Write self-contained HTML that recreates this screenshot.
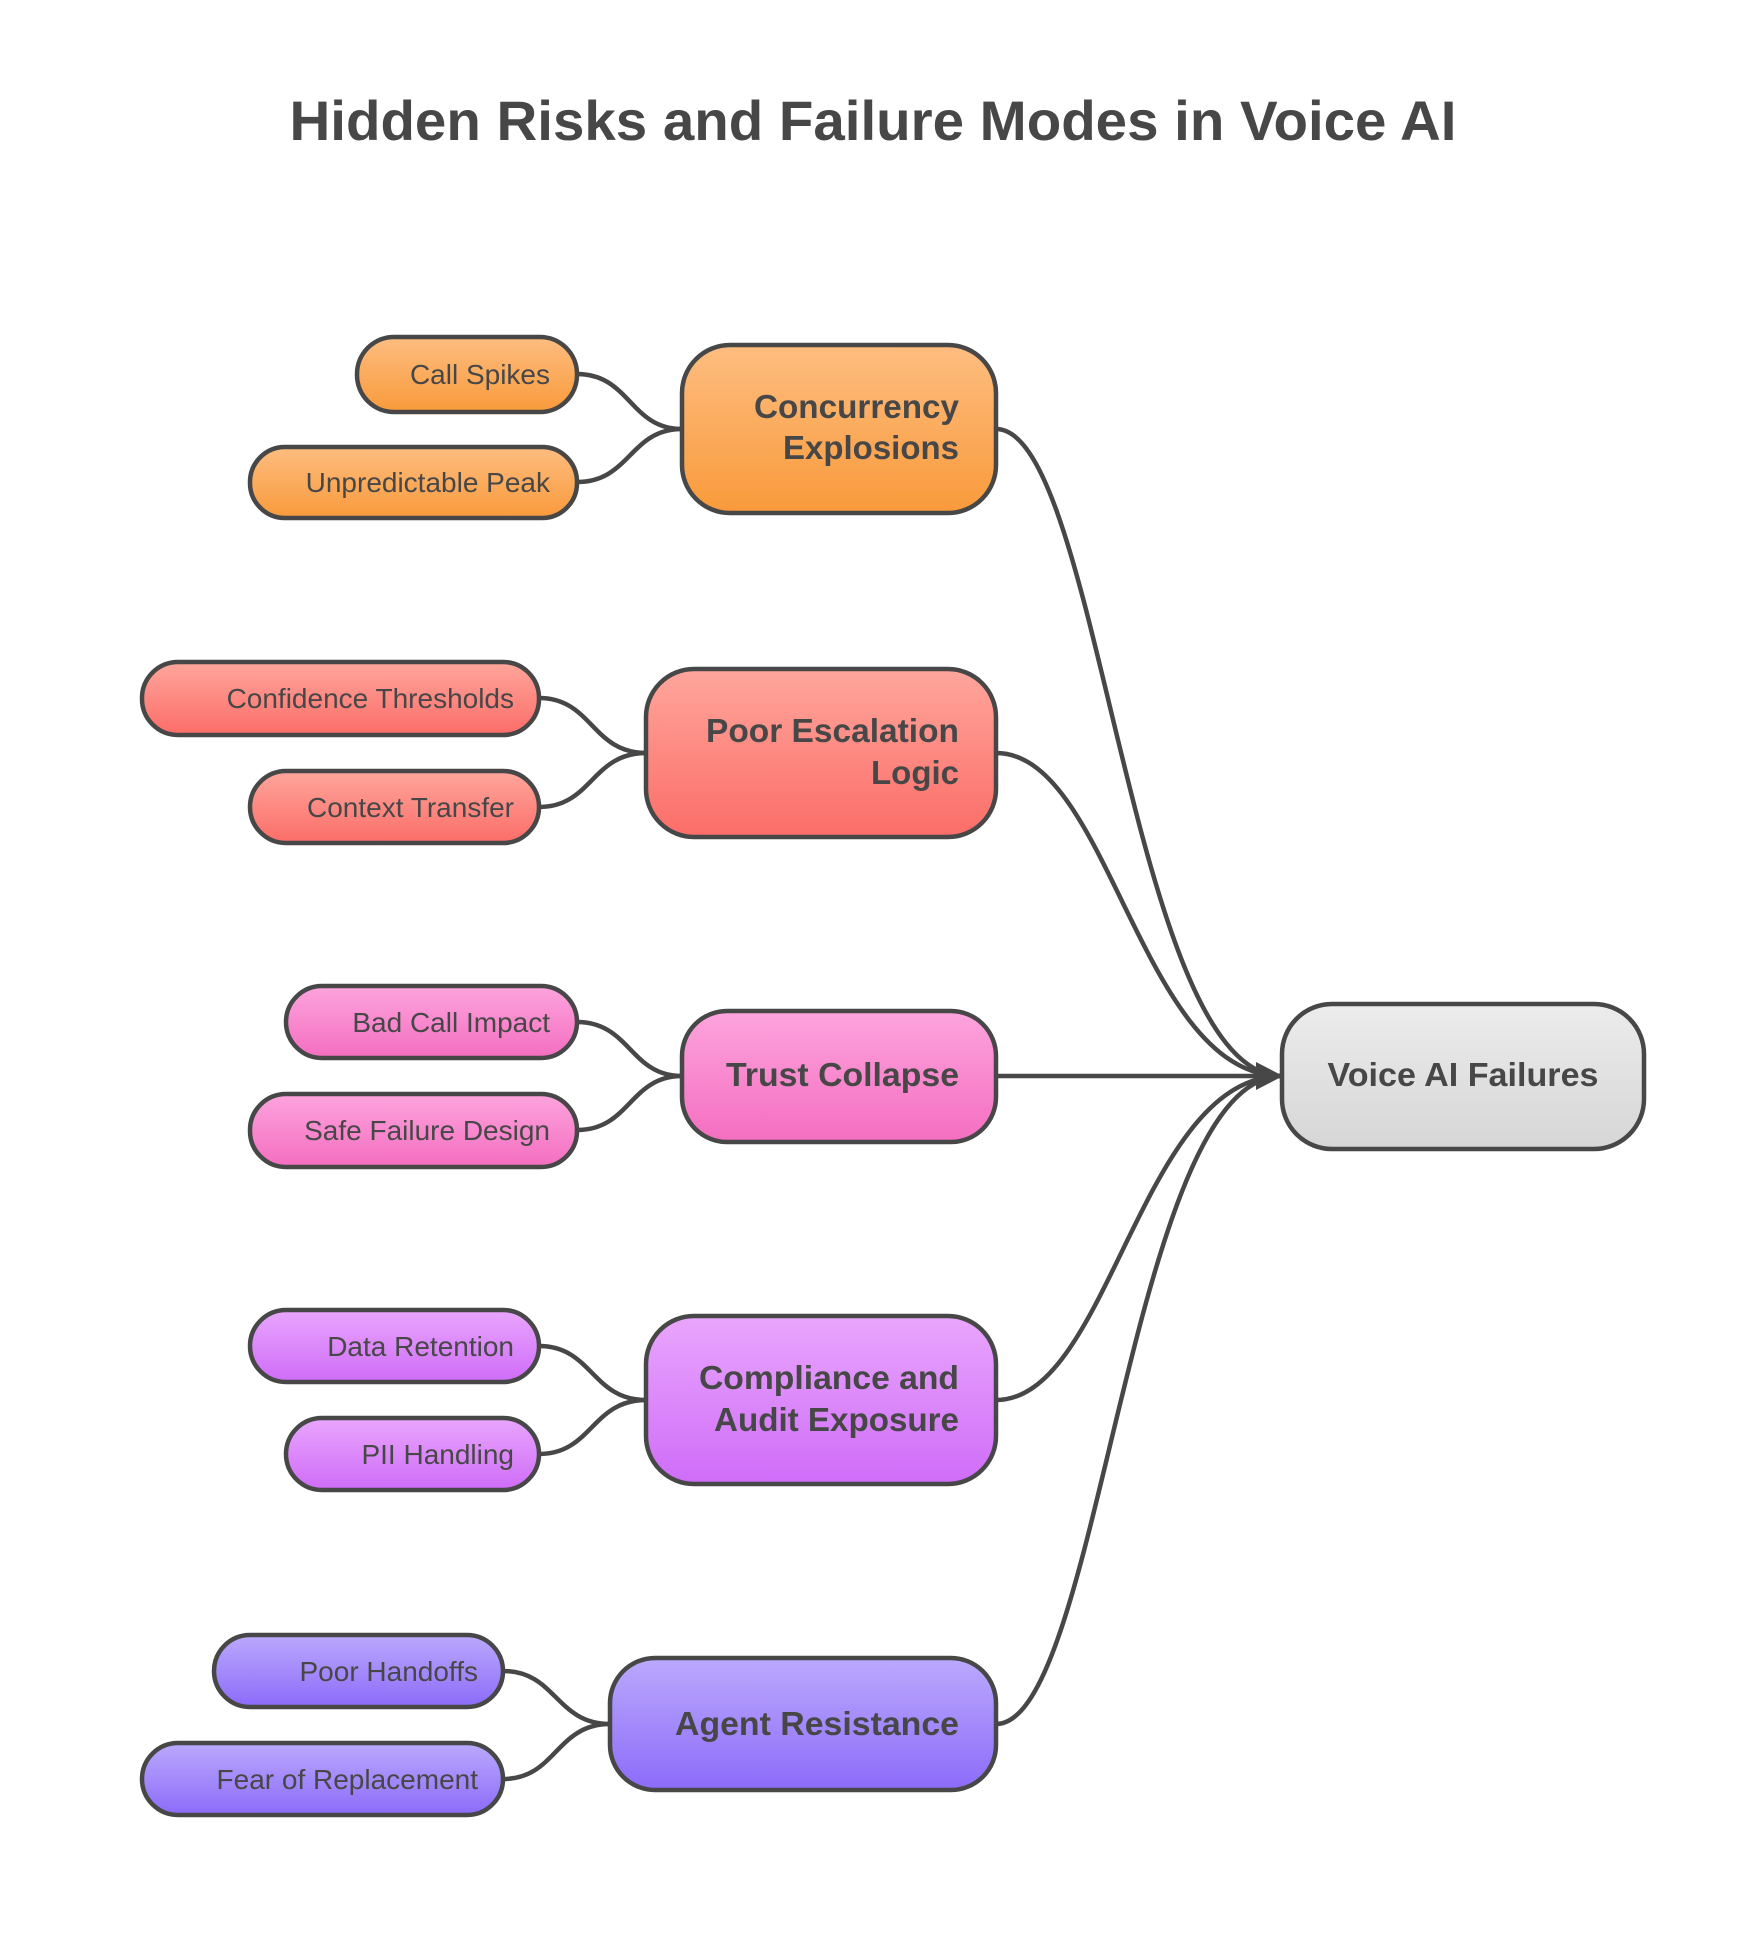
<!DOCTYPE html>
<html><head><meta charset="utf-8"><style>
html,body{margin:0;padding:0;background:#fff;}
svg{display:block;}
text{font-family:"Liberation Sans",Arial,sans-serif;fill:#474747;}
.t{font-weight:bold;}
.m{font-weight:bold;font-size:33px;}
.l{font-size:28px;}
</style></head><body>
<svg width="1747" height="1952" viewBox="0 0 1747 1952" xmlns="http://www.w3.org/2000/svg">
<defs>
<linearGradient id="go" x1="0" y1="0" x2="0" y2="1"><stop offset="0" stop-color="#fdbd80"/><stop offset="1" stop-color="#f99a3b"/></linearGradient>
<linearGradient id="gr" x1="0" y1="0" x2="0" y2="1"><stop offset="0" stop-color="#fea69c"/><stop offset="1" stop-color="#fc6d68"/></linearGradient>
<linearGradient id="gp" x1="0" y1="0" x2="0" y2="1"><stop offset="0" stop-color="#fda4dd"/><stop offset="1" stop-color="#f46ec0"/></linearGradient>
<linearGradient id="gv" x1="0" y1="0" x2="0" y2="1"><stop offset="0" stop-color="#e9a6fd"/><stop offset="1" stop-color="#cf6cf8"/></linearGradient>
<linearGradient id="gi" x1="0" y1="0" x2="0" y2="1"><stop offset="0" stop-color="#bba9fd"/><stop offset="1" stop-color="#8c6bf9"/></linearGradient>
<linearGradient id="gg" x1="0" y1="0" x2="0" y2="1"><stop offset="0" stop-color="#ececec"/><stop offset="1" stop-color="#d6d6d6"/></linearGradient>
</defs>

<text class="t" x="873" y="140" font-size="56" text-anchor="middle" textLength="1167" lengthAdjust="spacingAndGlyphs">Hidden Risks and Failure Modes in Voice AI</text>

<g fill="none" stroke="#474747" stroke-width="4.5">
<!-- main to root -->
<path d="M996,429 C1100,429 1130,1076 1282,1076"/>
<path d="M996,753 C1110,753 1140,1076 1282,1076"/>
<path d="M996,1076 L1282,1076"/>
<path d="M996,1400 C1110,1400 1140,1076 1282,1076"/>
<path d="M996,1724 C1100,1724 1130,1076 1282,1076"/>
<!-- leaves -->
<path d="M577,374 C630,374 630,429 682,429"/>
<path d="M577,482 C630,482 630,429 682,429"/>
<path d="M539,698 C592,698 592,753 646,753"/>
<path d="M539,807 C592,807 592,753 646,753"/>
<path d="M577,1022 C630,1022 630,1076 682,1076"/>
<path d="M577,1130 C630,1130 630,1076 682,1076"/>
<path d="M539,1346 C592,1346 592,1400 646,1400"/>
<path d="M539,1454 C592,1454 592,1400 646,1400"/>
<path d="M503,1671 C556,1671 556,1724 610,1724"/>
<path d="M503,1779 C556,1779 556,1724 610,1724"/>
</g>
<polygon points="1256,1062 1283,1076 1256,1090" fill="#474747"/>

<g stroke="#474747" stroke-width="4.5">
<rect x="682" y="345" width="314" height="168" rx="48" fill="url(#go)"/>
<rect x="357" y="337" width="220" height="75" rx="37" fill="url(#go)"/>
<rect x="250" y="447" width="327" height="71" rx="35" fill="url(#go)"/>

<rect x="646" y="669" width="350" height="168" rx="48" fill="url(#gr)"/>
<rect x="142" y="662" width="397" height="73" rx="36" fill="url(#gr)"/>
<rect x="250" y="771" width="289" height="72" rx="36" fill="url(#gr)"/>

<rect x="682" y="1011" width="314" height="131" rx="45" fill="url(#gp)"/>
<rect x="286" y="986" width="291" height="72" rx="36" fill="url(#gp)"/>
<rect x="250" y="1094" width="327" height="73" rx="36" fill="url(#gp)"/>

<rect x="646" y="1316" width="350" height="168" rx="48" fill="url(#gv)"/>
<rect x="250" y="1310" width="289" height="72" rx="36" fill="url(#gv)"/>
<rect x="286" y="1418" width="253" height="72" rx="36" fill="url(#gv)"/>

<rect x="610" y="1658" width="386" height="132" rx="45" fill="url(#gi)"/>
<rect x="214" y="1635" width="289" height="72" rx="36" fill="url(#gi)"/>
<rect x="142" y="1743" width="361" height="72" rx="36" fill="url(#gi)"/>

<rect x="1282" y="1004" width="362" height="145" rx="50" fill="url(#gg)"/>
</g>

<text class="m" x="959" y="418" text-anchor="end" textLength="205" lengthAdjust="spacingAndGlyphs">Concurrency</text>
<text class="m" x="959" y="459" text-anchor="end" textLength="176" lengthAdjust="spacingAndGlyphs">Explosions</text>
<text class="m" x="959" y="742" text-anchor="end" textLength="253" lengthAdjust="spacingAndGlyphs">Poor Escalation</text>
<text class="m" x="959" y="784" text-anchor="end" textLength="88" lengthAdjust="spacingAndGlyphs">Logic</text>
<text class="m" x="959" y="1086" text-anchor="end" textLength="233" lengthAdjust="spacingAndGlyphs">Trust Collapse</text>
<text class="m" x="959" y="1389" text-anchor="end" textLength="260" lengthAdjust="spacingAndGlyphs">Compliance and</text>
<text class="m" x="959" y="1431" text-anchor="end" textLength="245" lengthAdjust="spacingAndGlyphs">Audit Exposure</text>
<text class="m" x="959" y="1735" text-anchor="end" textLength="284" lengthAdjust="spacingAndGlyphs">Agent Resistance</text>
<text class="m" x="1463" y="1086" text-anchor="middle" textLength="271" lengthAdjust="spacingAndGlyphs">Voice AI Failures</text>

<text class="l" x="550" y="384" text-anchor="end">Call Spikes</text>
<text class="l" x="550" y="492" text-anchor="end">Unpredictable Peak</text>
<text class="l" x="514" y="708" text-anchor="end">Confidence Thresholds</text>
<text class="l" x="514" y="817" text-anchor="end">Context Transfer</text>
<text class="l" x="550" y="1032" text-anchor="end">Bad Call Impact</text>
<text class="l" x="550" y="1140" text-anchor="end">Safe Failure Design</text>
<text class="l" x="514" y="1356" text-anchor="end">Data Retention</text>
<text class="l" x="514" y="1464" text-anchor="end">PII Handling</text>
<text class="l" x="478" y="1681" text-anchor="end">Poor Handoffs</text>
<text class="l" x="478" y="1789" text-anchor="end">Fear of Replacement</text>
</svg>
</body></html>
